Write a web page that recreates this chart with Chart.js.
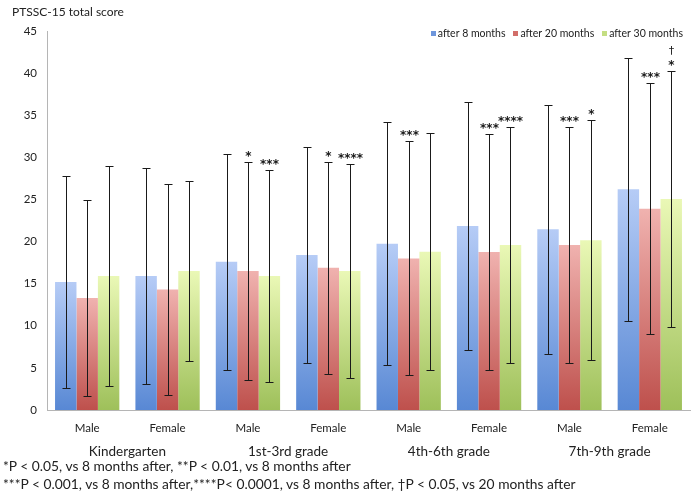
<!DOCTYPE html>
<html>
<head>
<meta charset="utf-8">
<script src="https://cdn.jsdelivr.net/npm/chart.js@4.4.1/dist/chart.umd.min.js"></script>
<style>
  html, body { margin: 0; padding: 0; background: #fff; }
  #wrap { position: relative; width: 695px; height: 493px; }
  #c { position: absolute; left: 0; top: 0; }
  .note { position: absolute; left: 3px; font: 13.8px Lato, "Open Sans", sans-serif; color: #222; white-space: nowrap; }
  #ytitle { position: absolute; left: 12px; top: 4px; font: 12px Lato, "Open Sans", sans-serif; color: #222; }
</style>
</head>
<body>
<div id="wrap">
  <canvas id="c" width="695" height="493"></canvas>
  <div id="ytitle">PTSSC-15 total score</div>
  <div class="note" style="top:457px">*P &lt; 0.05, vs 8 months after, **P &lt; 0.01, vs 8 months after</div>
  <div class="note" style="top:475px">***P &lt; 0.001, vs 8 months after,****P&lt; 0.0001, vs 8 months after, †P &lt; 0.05, vs 20 months after</div>
</div>
<script>
// ---- data ----
const categories = ["Male", "Female", "Male", "Female", "Male", "Female", "Male", "Female"];
const groups = ["Kindergarten", "1st-3rd grade", "4th-6th grade", "7th-9th grade"];
const seriesNames = ["after 8 months", "after 20 months", "after 30 months"];

const mean8  = [15.2, 15.9, 17.6, 18.4, 19.75, 21.85, 21.45, 26.2];
const mean20 = [13.3, 14.3, 16.5, 16.9, 18.0, 18.75, 19.6, 23.9];
const mean30 = [15.9, 16.5, 15.9, 16.5, 18.8, 19.6, 20.15, 25.05];

const sd8  = [12.55, 12.8, 12.8, 12.85, 14.45, 14.75, 14.75, 15.6];
const sd20 = [11.6, 12.55, 12.95, 12.6, 13.9, 14.05, 14.05, 14.9];
const sd30 = [13.1, 10.7, 12.55, 12.7, 14.05, 14.0, 14.25, 15.15];

const sig20 = ["", "", "*", "*", "***", "***", "***", "***"];
const sig30 = ["", "", "***", "****", "", "****", "*", "*"];
const dag30 = ["", "", "", "", "", "", "", "†"];

const yTicks = [0, 5, 10, 15, 20, 25, 30, 35, 40, 45];

// ---- styles ----
const palette = [
  { top: "rgb(182,204,246)", bottom: "rgb(88,136,212)", legend: "rgb(110,150,220)" },
  { top: "rgb(240,178,175)", bottom: "rgb(190,80,76)",  legend: "rgb(210,110,105)" },
  { top: "rgb(234,248,182)", bottom: "rgb(158,192,90)", legend: "rgb(196,222,130)" }
];
const FONT = 'Lato, "Open Sans", sans-serif';

function gradFor(idx) {
  return function (ctx) {
    const chart = ctx.chart;
    const ys = chart.scales && chart.scales.y;
    if (!chart.chartArea || !ys || ctx.type !== "data") return palette[idx].bottom;
    const v = ctx.raw;
    const yTop = ys.getPixelForValue(v);
    const yBot = ys.getPixelForValue(0);
    if (!isFinite(yTop) || !isFinite(yBot) || yTop === yBot) return palette[idx].bottom;
    const g = chart.ctx.createLinearGradient(0, yTop, 0, yBot);
    g.addColorStop(0, palette[idx].top);
    g.addColorStop(1, palette[idx].bottom);
    return g;
  };
}

const sds = [sd8, sd20, sd30];
const sigs = [null, sig20, sig30];

const extras = {
  id: "extras",
  afterDatasetsDraw(chart) {
    const c = chart.ctx;
    const ys = chart.scales.y;
    const xs = chart.scales.x;
    c.save();
    c.strokeStyle = "#1a1a1a";
    c.lineWidth = 1;
    chart.data.datasets.forEach((ds, di) => {
      const meta = chart.getDatasetMeta(di);
      meta.data.forEach((bar, j) => {
        const m = ds.data[j], s = sds[di][j];
        const x = Math.round(bar.x) + 0.5;
        const yT = Math.round(ys.getPixelForValue(m + s)) + 0.5;
        const yB = Math.round(ys.getPixelForValue(m - s)) + 0.5;
        c.beginPath();
        c.moveTo(x, yT); c.lineTo(x, yB);
        c.moveTo(x - 4, yT); c.lineTo(x + 4, yT);
        c.moveTo(x - 4, yB); c.lineTo(x + 4, yB);
        c.stroke();
        const sg = sigs[di] ? sigs[di][j] : "";
        c.fillStyle = "#1a1a1a";
        c.textAlign = "center";
        c.textBaseline = "middle";
        if (sg) {
          c.font = 'bold 12px "DejaVu Sans", sans-serif';
          c.fillText(sg, x, yT - 6);
        }
        if (di === 2 && dag30[j]) {
          c.font = '11px "DejaVu Sans", sans-serif';
          c.fillText(dag30[j], x, yT - 20);
        }
      });
    });
    // group labels
    c.font = "13.5px " + FONT;
    c.fillStyle = "#222";
    c.textAlign = "center";
    c.textBaseline = "middle";
    groups.forEach((g, i) => {
      const x = (xs.getPixelForValue(2 * i) + xs.getPixelForValue(2 * i + 1)) / 2;
      c.fillText(g, x, 452);
    });
    // legend
    c.font = "10.5px " + FONT;
    c.textAlign = "left";
    c.textBaseline = "middle";
    const gap = 8, box = 5, bgap = 2;
    let widths = seriesNames.map(n => c.measureText(n).width + box + bgap);
    let total = widths.reduce((a, b) => a + b, 0) + gap * (seriesNames.length - 1);
    let x0 = 683 - total;
    seriesNames.forEach((n, i) => {
      c.fillStyle = palette[i].legend;
      c.fillRect(Math.round(x0), 31, box, box);
      c.fillStyle = "#222";
      c.fillText(n, x0 + box + bgap, 34);
      x0 += widths[i] + gap;
    });
    c.restore();
  }
};

new Chart(document.getElementById("c"), {
  type: "bar",
  data: {
    labels: categories,
    datasets: [
      { label: seriesNames[0], data: mean8,  backgroundColor: gradFor(0) },
      { label: seriesNames[1], data: mean20, backgroundColor: gradFor(1) },
      { label: seriesNames[2], data: mean30, backgroundColor: gradFor(2) }
    ]
  },
  options: {
    responsive: false,
    animation: false,
    devicePixelRatio: 1,
    layout: { padding: { top: 31, right: 5, bottom: 53, left: 0 } },
    datasets: { bar: { categoryPercentage: 0.8, barPercentage: 1.0, borderWidth: 0 } },
    plugins: { legend: { display: false }, tooltip: { enabled: false } },
    scales: {
      x: {
        grid: { display: false, drawTicks: false },
        border: { display: true, color: "#b5b5b5", width: 1 },
        ticks: { color: "#222", font: { family: FONT, size: 11.5 }, padding: 11 },
        afterFit(scale) { scale.height = 30; }
      },
      y: {
        min: 0, max: 45,
        grid: { display: false, drawTicks: false },
        border: { display: true, color: "#b5b5b5", width: 1 },
        afterBuildTicks(scale) { scale.ticks = yTicks.map(v => ({ value: v })); },
        ticks: { color: "#222", font: { family: FONT, size: 11.5 }, padding: 10 },
        afterFit(scale) { scale.width = 47; }
      }
    }
  },
  plugins: [extras]
});
</script>
</body>
</html>
